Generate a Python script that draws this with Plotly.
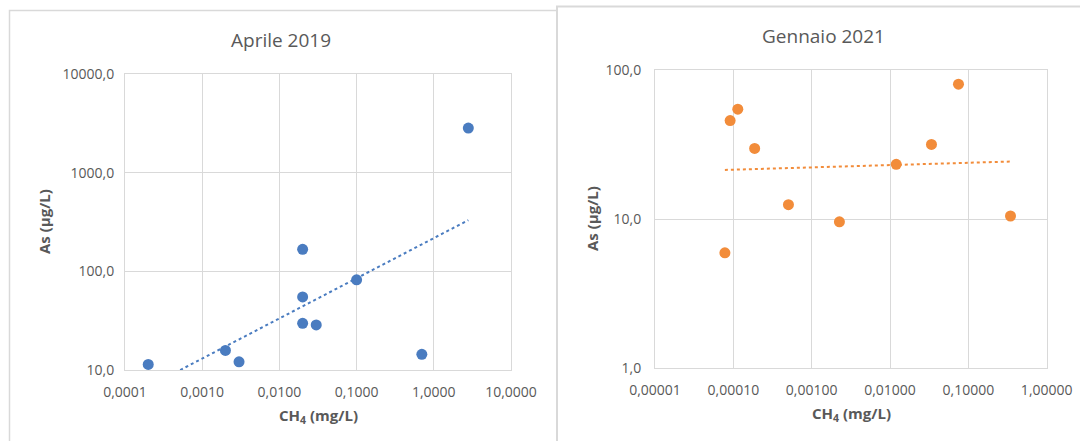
import numpy as np
import plotly.graph_objects as go

W, H = 1080, 441

# ---- data ----
apr_ch4 = [0.0002, 0.002, 0.003, 0.02, 0.02, 0.02, 0.03, 0.1, 0.7, 2.8]
apr_as = [11.4, 15.8, 12.1, 167, 55, 29.7, 28.6, 82, 14.4, 2830]

gen_ch4 = [0.000078, 0.000091, 0.000114, 0.000187, 0.000505, 0.00226, 0.012, 0.0338, 0.0748, 0.345]
gen_as = [5.95, 45.8, 54.6, 29.8, 12.5, 9.6, 23.3, 31.7, 80.4, 10.5]

apr_xticks = [0.0001, 0.001, 0.01, 0.1, 1, 10]
apr_xlabels = ["0,0001", "0,0010", "0,0100", "0,1000", "1,0000", "10,0000"]
apr_yticks = [10, 100, 1000, 10000]
apr_ylabels = ["10,0", "100,0", "1000,0", "10000,0"]

gen_xticks = [0.00001, 0.0001, 0.001, 0.01, 0.1, 1]
gen_xlabels = ["0,00001", "0,00010", "0,00100", "0,01000", "0,10000", "1,00000"]
gen_yticks = [1, 10, 100]
gen_ylabels = ["1,0", "10,0", "100,0"]

titles = ["Aprile 2019", "Gennaio 2021"]
x_title = "CH<sub>4</sub> (mg/L)"
y_title = "As (µg/L)"

BLUE = "#4a7cc0"
ORANGE = "#f28c3a"
GRID = "#d9d9d9"
TXT = "#595959"
FONT = "Open Sans"


def power_trend(x, y, n=60):
    lx, ly = np.log10(x), np.log10(y)
    b, a = np.polyfit(lx, ly, 1)
    xs = np.logspace(lx.min(), lx.max(), n)
    return xs, 10 ** (a + b * np.log10(xs))


def px_x(p):
    return p / W


def px_y(p):
    return 1 - p / H


fig = go.Figure()

# left panel
fig.add_trace(go.Scatter(x=apr_ch4, y=apr_as, mode="markers",
                         marker=dict(color=BLUE, size=11), xaxis="x", yaxis="y",
                         showlegend=False))
tx, ty = power_trend(np.array(apr_ch4), np.array(apr_as))
fig.add_trace(go.Scatter(x=tx, y=ty, mode="lines",
                         line=dict(color=BLUE, width=2, dash="dot"),
                         xaxis="x", yaxis="y", showlegend=False))

# right panel
fig.add_trace(go.Scatter(x=gen_ch4, y=gen_as, mode="markers",
                         marker=dict(color=ORANGE, size=11), xaxis="x2", yaxis="y2",
                         showlegend=False))
tx2, ty2 = power_trend(np.array(gen_ch4), np.array(gen_as))
fig.add_trace(go.Scatter(x=tx2, y=ty2, mode="lines",
                         line=dict(color=ORANGE, width=2, dash="dot"),
                         xaxis="x2", yaxis="y2", showlegend=False))

common_axis = dict(type="log", showgrid=True, gridcolor=GRID, gridwidth=1,
                   showline=True, linecolor=GRID, linewidth=1, mirror=True,
                   zeroline=False, ticks="", automargin=False,
                   tickfont=dict(family=FONT, size=14, color=TXT),
                   fixedrange=True)

fig.update_layout(
    width=W, height=H,
    margin=dict(l=0, r=0, t=0, b=0, autoexpand=False),
    paper_bgcolor="white", plot_bgcolor="white",
    font=dict(family=FONT, color=TXT),
    xaxis=dict(common_axis, domain=[px_x(125), px_x(511)], range=[-4, 1],
               tickvals=apr_xticks, ticktext=apr_xlabels, anchor="y", ticklabelstandoff=9),
    yaxis=dict(common_axis, domain=[px_y(370), px_y(74)], range=[1, 4],
               tickvals=apr_yticks, ticktext=apr_ylabels, anchor="x", ticklabelstandoff=7),
    xaxis2=dict(common_axis, domain=[px_x(655), px_x(1046.7)], range=[-5, 0],
                tickvals=gen_xticks, ticktext=gen_xlabels, anchor="y2", ticklabelstandoff=9),
    yaxis2=dict(common_axis, domain=[px_y(368.3), px_y(70)], range=[0, 2],
                tickvals=gen_yticks, ticktext=gen_ylabels, anchor="x2", ticklabelstandoff=10),
)

# panel borders
fig.add_shape(type="rect", xref="paper", yref="paper",
              x0=px_x(9.5), x1=px_x(600), y0=px_y(460), y1=px_y(10.5),
              line=dict(color="#d9d9d9", width=1.5), fillcolor="white", layer="below")
fig.add_shape(type="rect", xref="paper", yref="paper",
              x0=px_x(557), x1=px_x(1100), y0=px_y(460), y1=px_y(6.5),
              line=dict(color="#d9d9d9", width=2), fillcolor="white", layer="below")

# titles
ann = []
ann.append(dict(text=titles[0], x=px_x(281), y=px_y(40), xref="paper", yref="paper",
                showarrow=False, font=dict(family=FONT, size=19, color=TXT),
                xanchor="center", yanchor="middle"))
ann.append(dict(text=titles[1], x=px_x(823), y=px_y(36), xref="paper", yref="paper",
                showarrow=False, font=dict(family=FONT, size=19, color=TXT),
                xanchor="center", yanchor="middle"))
# axis titles
for xc, yc in [(318, 416), (851, 414)]:
    ann.append(dict(text="<b>" + x_title + "</b>", x=px_x(xc), y=px_y(yc), xref="paper",
                    yref="paper", showarrow=False, font=dict(family=FONT, size=15, color=TXT),
                    xanchor="center", yanchor="middle"))
for xc, yc in [(44, 222), (592, 219)]:
    ann.append(dict(text="<b>" + y_title + "</b>", x=px_x(xc), y=px_y(yc), xref="paper",
                    yref="paper", showarrow=False, textangle=-90,
                    font=dict(family=FONT, size=15, color=TXT),
                    xanchor="center", yanchor="middle"))
fig.update_layout(annotations=ann)

fig.write_html("out.html")
